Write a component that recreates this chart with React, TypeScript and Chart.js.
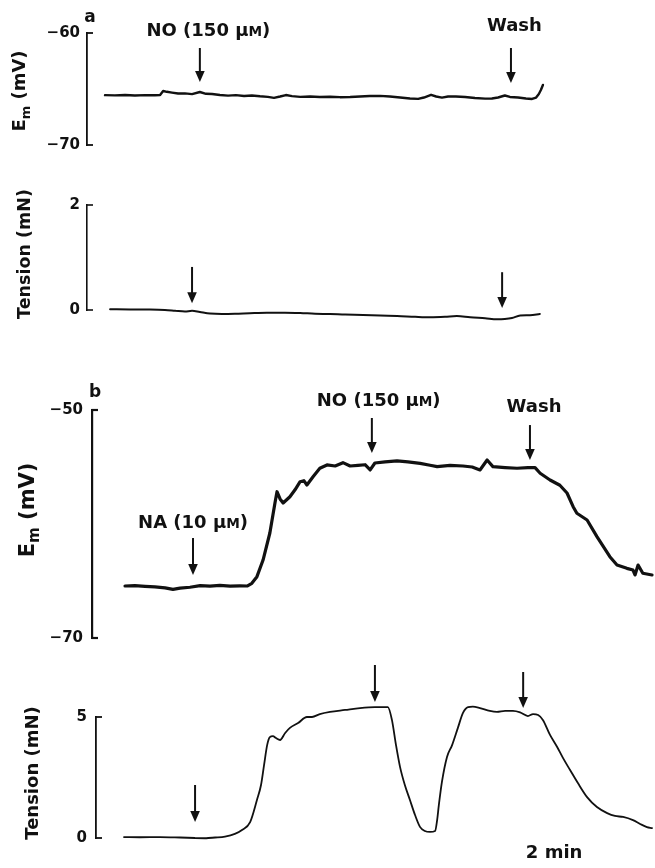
import { useEffect, useRef } from "react";
import { Chart, registerables } from "chart.js";
Chart.register(...registerables);

const W = 655;
const H = 868;
const INK = "#111";
const FAMILY = '"DejaVu Sans", "Liberation Sans", sans-serif';
const PX_PER_MIN = 34;

// ---------- Panel a: membrane potential (mV) vs time (min) ----------
const emATime = [0, 0.29, 0.59, 0.88, 1.18, 1.47, 1.62, 1.71, 1.82, 1.97, 2.15, 2.35, 2.56, 2.79, 2.97, 3.15, 3.38, 3.62, 3.85, 4.09, 4.32, 4.56, 4.79, 4.97, 5.15, 5.32, 5.5, 5.74, 6.03, 6.32, 6.62, 6.91, 7.21, 7.5, 7.79, 8.09, 8.38, 8.68, 8.97, 9.21, 9.38, 9.59, 9.74, 9.91, 10.09, 10.32, 10.59, 10.88, 11.18, 11.38, 11.56, 11.76, 11.91, 12.15, 12.38, 12.56, 12.68, 12.76, 12.82, 12.88];
const emAValues = [-65.55, -65.57, -65.54, -65.58, -65.55, -65.56, -65.54, -65.18, -65.25, -65.32, -65.4, -65.39, -65.46, -65.27, -65.43, -65.45, -65.54, -65.59, -65.55, -65.63, -65.58, -65.65, -65.7, -65.79, -65.67, -65.54, -65.64, -65.7, -65.67, -65.71, -65.69, -65.73, -65.71, -65.67, -65.63, -65.61, -65.67, -65.76, -65.85, -65.88, -65.76, -65.52, -65.67, -65.77, -65.67, -65.67, -65.71, -65.8, -65.86, -65.85, -65.76, -65.58, -65.71, -65.76, -65.85, -65.89, -65.76, -65.45, -65.09, -64.64];
const emATicks = [-70, -60];
const emAArrowTime = [2.79, 11.94];
const emAArrowFrom = [-61.34, -61.34];
const emAArrowTo = [-64.38, -64.46];
const emALabelText = ["NO (150 μM)", "Wash"];
const emALabelTime = [3.04, 12.04];
const emALabelValue = [-59.73, -59.24];

// ---------- Panel a: tension (mN) ----------
const tenATime = [0.15, 0.74, 1.32, 1.76, 2.06, 2.35, 2.56, 2.79, 3.09, 3.44, 3.82, 4.26, 4.76, 5.29, 5.74, 6.18, 6.62, 7.06, 7.59, 8.09, 8.59, 9.12, 9.56, 10.0, 10.35, 10.74, 11.18, 11.53, 11.76, 11.97, 12.21, 12.5, 12.79];
const tenAValues = [0.013, 0.01, 0.008, 0, -0.015, -0.03, -0.015, -0.038, -0.067, -0.076, -0.072, -0.061, -0.051, -0.05, -0.057, -0.072, -0.076, -0.088, -0.095, -0.107, -0.114, -0.13, -0.139, -0.13, -0.114, -0.139, -0.158, -0.177, -0.171, -0.152, -0.105, -0.099, -0.076];
const tenATicks = [0, 2];
const tenAArrowTime = [2.56, 11.68];
const tenAArrowFrom = [0.82, 0.72];
const tenAArrowTo = [0.13, 0.04];

// ---------- Panel b: membrane potential (mV) ----------
const emBTime = [0.03, 0.32, 0.62, 0.91, 1.21, 1.44, 1.65, 1.94, 2.24, 2.53, 2.82, 3.12, 3.41, 3.62, 3.76, 3.91, 4.09, 4.29, 4.44, 4.5, 4.59, 4.68, 4.88, 5.03, 5.18, 5.29, 5.38, 5.56, 5.76, 5.97, 6.21, 6.44, 6.65, 6.88, 7.09, 7.24, 7.38, 7.68, 8.03, 8.35, 8.71, 9.0, 9.21, 9.59, 9.97, 10.24, 10.47, 10.68, 10.85, 11.21, 11.56, 11.88, 12.09, 12.24, 12.53, 12.82, 13.03, 13.21, 13.32, 13.62, 13.91, 14.29, 14.5, 14.79, 14.97, 15.03, 15.12, 15.26, 15.53];
const emBValues = [-65.44, -65.4, -65.47, -65.52, -65.6, -65.73, -65.62, -65.55, -65.41, -65.45, -65.38, -65.45, -65.42, -65.44, -65.2, -64.62, -63.16, -60.79, -58.16, -57.17, -57.8, -58.16, -57.61, -57.0, -56.29, -56.2, -56.58, -55.85, -55.11, -54.82, -54.91, -54.62, -54.91, -54.85, -54.8, -55.26, -54.65, -54.55, -54.47, -54.55, -54.68, -54.85, -54.97, -54.85, -54.91, -55.0, -55.26, -54.39, -54.97, -55.05, -55.11, -55.06, -55.06, -55.55, -56.14, -56.6, -57.28, -58.48, -59.06, -59.65, -61.11, -62.87, -63.6, -63.89, -64.04, -64.47, -63.6, -64.32, -64.47];
const emBTicks = [-70, -50];
const emBArrowTime = [2.03, 7.29, 11.94];
const emBArrowFrom = [-61.23, -50.7, -51.32];
const emBArrowTo = [-64.47, -53.77, -54.39];
const emBLabelText = ["NA (10 μM)", "NO (150 μM)", "Wash"];
const emBLabelTime = [2.03, 7.49, 12.06];
const emBLabelValue = [-59.74, -49.12, -49.65];

// ---------- Panel b: tension (mN) ----------
const tenBTime = [0, 0.47, 1.06, 1.65, 2.09, 2.38, 2.68, 2.97, 3.26, 3.47, 3.71, 3.91, 4.03, 4.12, 4.21, 4.29, 4.38, 4.47, 4.59, 4.74, 4.88, 5.12, 5.38, 5.53, 5.76, 6.06, 6.5, 6.94, 7.38, 7.76, 7.88, 8.0, 8.12, 8.26, 8.41, 8.56, 8.71, 8.85, 9.0, 9.15, 9.21, 9.26, 9.35, 9.5, 9.65, 9.82, 9.97, 10.12, 10.26, 10.47, 10.76, 10.97, 11.21, 11.44, 11.65, 11.88, 12.03, 12.18, 12.32, 12.53, 12.74, 12.91, 13.12, 13.35, 13.62, 13.91, 14.21, 14.44, 14.68, 14.97, 15.18, 15.38, 15.53];
const tenBValues = [0.04, 0.03, 0.04, 0.02, 0.0, -0.01, 0.02, 0.06, 0.17, 0.33, 0.66, 1.57, 2.19, 3.02, 3.84, 4.17, 4.21, 4.13, 4.05, 4.34, 4.55, 4.75, 5.0, 5.0, 5.12, 5.21, 5.29, 5.37, 5.41, 5.41, 4.88, 3.84, 2.93, 2.19, 1.57, 0.95, 0.45, 0.29, 0.25, 0.29, 0.74, 1.36, 2.31, 3.35, 3.84, 4.55, 5.17, 5.41, 5.43, 5.37, 5.25, 5.21, 5.25, 5.25, 5.19, 5.04, 5.12, 5.08, 4.88, 4.26, 3.76, 3.31, 2.81, 2.27, 1.69, 1.28, 1.03, 0.91, 0.87, 0.74, 0.58, 0.45, 0.41];
const tenBTicks = [0, 5];
const tenBArrowTime = [2.09, 7.38, 11.74];
const tenBArrowFrom = [2.19, 7.15, 6.86];
const tenBArrowTo = [0.66, 5.62, 5.37];
const tenBLabelText = ["2 min"];
const tenBLabelTime = [12.65];
const tenBLabelValue = [-0.54];

type Seg = { t: string; size: number; dy: number };

const EM_TITLE = (s: number): Seg[] => [
  { t: "E", size: s, dy: 0 },
  { t: "m", size: s * 0.72, dy: s * 0.24 },
  { t: " (mV)", size: s, dy: 0 },
];
const TEN_TITLE = (s: number): Seg[] => [{ t: "Tension (mN)", size: s, dy: 0 }];

function richSegs(text: string, size: number): Seg[] {
  const i = text.indexOf("μM");
  if (i < 0) return [{ t: text, size, dy: 0 }];
  return [
    { t: text.slice(0, i + 1), size, dy: 0 },
    { t: "M", size: size * 0.76, dy: 0 },
    { t: text.slice(i + 2), size, dy: 0 },
  ];
}

function drawSegs(ctx: CanvasRenderingContext2D, segs: Seg[], cx: number, cy: number, base: number) {
  const widths = segs.map((s) => {
    ctx.font = `bold ${s.size}px ${FAMILY}`;
    return ctx.measureText(s.t).width;
  });
  const total = widths.reduce((a, b) => a + b, 0);
  let x = cx - total / 2;
  ctx.textAlign = "left";
  ctx.textBaseline = "alphabetic";
  segs.forEach((s, i) => {
    ctx.font = `bold ${s.size}px ${FAMILY}`;
    ctx.fillText(s.t, x, cy + base * 0.36 + s.dy);
    x += widths[i];
  });
}

type Panel = {
  time: number[];
  values: number[];
  ticks: number[];
  arrowTime: number[];
  arrowFrom: number[];
  arrowTo: number[];
  labelText: string[];
  labelTime: number[];
  labelValue: number[];
  axisX: number;
  t0X: number;
  top: number;
  bottom: number;
  tickPad: number;
  lineWidth: number;
  axisWidth: number;
  smooth: boolean;
  title: Seg[];
  titleX: number;
  titleY: number;
  letter?: string;
  letterX?: number;
  letterY?: number;
};

const panels: Panel[] = [
  {
    time: emATime, values: emAValues, ticks: emATicks,
    arrowTime: emAArrowTime, arrowFrom: emAArrowFrom, arrowTo: emAArrowTo,
    labelText: emALabelText, labelTime: emALabelTime, labelValue: emALabelValue,
    axisX: 87, t0X: 105, top: 33, bottom: 145, tickPad: 7, lineWidth: 2.4, axisWidth: 1.8, smooth: false,
    title: EM_TITLE(18), titleX: 19, titleY: 91, letter: "a", letterX: 90, letterY: 18,
  },
  {
    time: tenATime, values: tenAValues, ticks: tenATicks,
    arrowTime: tenAArrowTime, arrowFrom: tenAArrowFrom, arrowTo: tenAArrowTo,
    labelText: [], labelTime: [], labelValue: [],
    axisX: 87, t0X: 105, top: 205, bottom: 310, tickPad: 7, lineWidth: 2, axisWidth: 1.6, smooth: true,
    title: TEN_TITLE(17.5), titleX: 24, titleY: 254,
  },
  {
    time: emBTime, values: emBValues, ticks: emBTicks,
    arrowTime: emBArrowTime, arrowFrom: emBArrowFrom, arrowTo: emBArrowTo,
    labelText: emBLabelText, labelTime: emBLabelTime, labelValue: emBLabelValue,
    axisX: 92, t0X: 124, top: 410, bottom: 638, tickPad: 9, lineWidth: 3.2, axisWidth: 2.2, smooth: false,
    title: EM_TITLE(21), titleX: 26, titleY: 510, letter: "b", letterX: 95, letterY: 393,
  },
  {
    time: tenBTime, values: tenBValues, ticks: tenBTicks,
    arrowTime: tenBArrowTime, arrowFrom: tenBArrowFrom, arrowTo: tenBArrowTo,
    labelText: tenBLabelText, labelTime: tenBLabelTime, labelValue: tenBLabelValue,
    axisX: 96, t0X: 124, top: 717, bottom: 838, tickPad: 9, lineWidth: 1.8, axisWidth: 1.8, smooth: true,
    title: TEN_TITLE(18), titleX: 32, titleY: 773,
  },
];

function makeFigurePlugin(p: Panel) {
  return {
    id: "figureMarks",
    afterDraw(chart: any) {
      const ctx: CanvasRenderingContext2D = chart.ctx;
      const xs = chart.scales.x;
      const ys = chart.scales.y;
      const left = chart.chartArea.left;
      ctx.save();
      ctx.strokeStyle = INK;
      ctx.fillStyle = INK;
      // bracket caps at axis ends
      ctx.lineWidth = p.axisWidth;
      p.ticks.forEach((v) => {
        const py = ys.getPixelForValue(v);
        ctx.beginPath();
        ctx.moveTo(left - 0.5, py);
        ctx.lineTo(left + 6, py);
        ctx.stroke();
      });
      // arrows
      p.arrowTime.forEach((t, i) => {
        const px = xs.getPixelForValue(t);
        const y0 = ys.getPixelForValue(p.arrowFrom[i]);
        const y1 = ys.getPixelForValue(p.arrowTo[i]);
        ctx.lineWidth = 2;
        ctx.beginPath();
        ctx.moveTo(px, y0);
        ctx.lineTo(px, y1 - 8);
        ctx.stroke();
        ctx.beginPath();
        ctx.moveTo(px - 4.8, y1 - 11);
        ctx.lineTo(px + 4.8, y1 - 11);
        ctx.lineTo(px, y1);
        ctx.closePath();
        ctx.fill();
      });
      // text labels
      p.labelText.forEach((txt, i) => {
        const px = xs.getPixelForValue(p.labelTime[i]);
        const py = ys.getPixelForValue(p.labelValue[i]);
        drawSegs(ctx, richSegs(txt, 18), px, py, 18);
      });
      // panel letter
      if (p.letter) {
        ctx.font = `bold 17px ${FAMILY}`;
        ctx.textAlign = "center";
        ctx.textBaseline = "middle";
        ctx.fillText(p.letter, p.letterX!, p.letterY!);
      }
      // rotated axis title
      ctx.save();
      ctx.translate(p.titleX, p.titleY);
      ctx.rotate(-Math.PI / 2);
      drawSegs(ctx, p.title, 0, 0, p.title[0].size);
      ctx.restore();
      ctx.restore();
    },
  };
}

function buildConfig(p: Panel): any {
  const xMin = (p.axisX - p.t0X) / PX_PER_MIN;
  const xMax = (W - p.t0X) / PX_PER_MIN;
  const yMin = p.ticks[0];
  const yMax = p.ticks[p.ticks.length - 1];
  return {
    type: "line",
    data: {
      datasets: [
        {
          data: p.time.map((t, i) => ({ x: t, y: p.values[i] })),
          borderColor: INK,
          borderWidth: p.lineWidth,
          pointRadius: 0,
          fill: false,
          clip: false,
          tension: 0,
          cubicInterpolationMode: p.smooth ? "monotone" : "default",
          borderJoinStyle: "round",
          borderCapStyle: "round",
        },
      ],
    },
    options: {
      animation: false,
      responsive: false,
      events: [],
      layout: { padding: { top: p.top, bottom: H - p.bottom, left: 0, right: 0 } },
      plugins: { legend: { display: false }, tooltip: { enabled: false }, title: { display: false } },
      scales: {
        x: { type: "linear", display: false, min: xMin, max: xMax },
        y: {
          type: "linear",
          min: yMin,
          max: yMax,
          afterFit: (s: any) => {
            s.width = p.axisX;
          },
          afterBuildTicks: (s: any) => {
            s.ticks = p.ticks.map((v) => ({ value: v }));
          },
          grid: { display: false, drawTicks: false },
          border: { display: true, color: INK, width: p.axisWidth },
          ticks: {
            color: INK,
            padding: p.tickPad,
            font: { family: FAMILY, size: 15, weight: "bold" },
            callback: (v: number) => (v < 0 ? "\u2212" + Math.abs(v) : String(v)),
          },
        },
      },
    },
    plugins: [makeFigurePlugin(p)],
  };
}

function PanelCanvas({ panel }: { panel: Panel }) {
  const ref = useRef<HTMLCanvasElement>(null);
  useEffect(() => {
    const chart = new Chart(ref.current as HTMLCanvasElement, buildConfig(panel));
    return () => chart.destroy();
  }, [panel]);
  return (
    <canvas
      ref={ref}
      width={W}
      height={H}
      style={{ position: "absolute", left: 0, top: 0, width: W, height: H }}
    />
  );
}

export default function App() {
  return (
    <div
      style={{
        position: "absolute",
        left: 0,
        top: 0,
        width: W,
        height: H,
        background: "#fff",
        overflow: "hidden",
      }}
    >
      {panels.map((p, i) => (
        <PanelCanvas key={i} panel={p} />
      ))}
    </div>
  );
}
